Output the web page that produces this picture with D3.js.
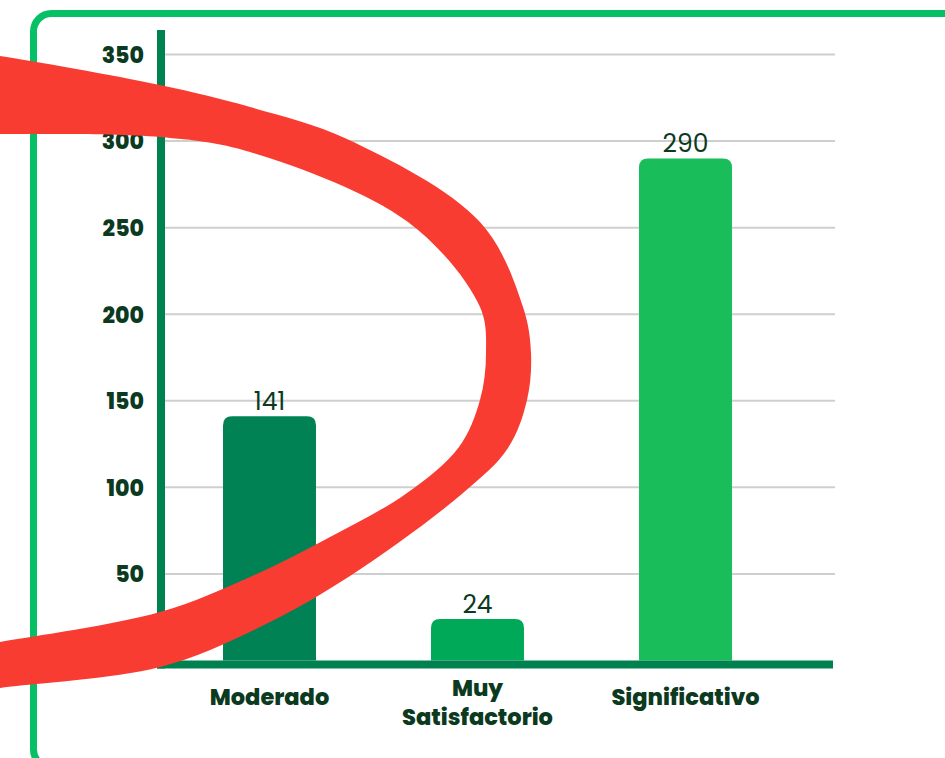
<!DOCTYPE html>
<html>
<head>
<meta charset="utf-8">
<script src="https://cdn.jsdelivr.net/npm/d3@7"></script>
<style>
  html, body { margin: 0; padding: 0; background: #fff; }
  svg { display: block; }
</style>
</head>
<body>
<svg id="chart" width="945" height="758"></svg>
<script>
"use strict";

// data
var categories = ["Moderado", "Muy Satisfactorio", "Significativo"];
var values = [141, 24, 290];
var labelLines = [["Moderado"], ["Muy", "Satisfactorio"], ["Significativo"]];
var barColors = ["#008254", "#00A957", "#19BE5B"];
var yTicks = [50, 100, 150, 200, 250, 300, 350];

// red marker stroke drawn over the chart (outer and inner edge)
var markOuter = [[-30, 52], [0, 56], [160, 85], [250, 107], [347, 139], [480, 222],
    [523, 307], [531, 353], [527, 400], [508, 448], [463, 493], [350, 576], [260, 627],
    [160, 667], [0, 688], [-30, 693]];
var markInner = [[-30, 134], [0, 134], [160, 137], [250, 152], [408, 222], [480, 307],
    [486, 353], [480, 400], [459, 447], [407, 493], [330, 537], [250, 577], [160, 612],
    [0, 642], [-30, 647]];

var svg = d3.select("#chart");
var font = "Poppins, Inter, 'Noto Sans', sans-serif";
var ink = "#0B3A1F";

var plot = { left: 165, right: 835, top: 54.5, bottom: 660.5 };

var x = d3.scaleBand()
    .domain(categories)
    .range([165.5, 789.5])
    .paddingInner(0.553)
    .paddingOuter(0.2765);

var y = d3.scaleLinear()
    .domain([0, 350])
    .range([plot.bottom, plot.top]);

// outer frame
svg.append("rect")
    .attr("x", 33.5)
    .attr("y", 13.5)
    .attr("width", 1000)
    .attr("height", 754)
    .attr("rx", 18)
    .attr("fill", "none")
    .attr("stroke", "#05C064")
    .attr("stroke-width", 7);

// gridlines
svg.append("g")
    .selectAll("line")
    .data(yTicks)
    .enter()
    .append("line")
    .attr("x1", plot.left)
    .attr("x2", plot.right)
    .attr("y1", function (d) { return y(d); })
    .attr("y2", function (d) { return y(d); })
    .attr("stroke", "#cfcfcf")
    .attr("stroke-width", 2);

// bars with rounded tops
function roundedTop(x0, y0, w, h, r) {
    return "M" + x0 + "," + (y0 + h) +
        "V" + (y0 + r) +
        "Q" + x0 + "," + y0 + " " + (x0 + r) + "," + y0 +
        "H" + (x0 + w - r) +
        "Q" + (x0 + w) + "," + y0 + " " + (x0 + w) + "," + (y0 + r) +
        "V" + (y0 + h) + "Z";
}

svg.append("g")
    .selectAll("path")
    .data(values)
    .enter()
    .append("path")
    .attr("d", function (d, i) {
        return roundedTop(x(categories[i]), y(d), x.bandwidth(), y(0) - y(d), 9);
    })
    .attr("fill", function (d, i) { return barColors[i]; });

// value labels
svg.append("g")
    .selectAll("text")
    .data(values)
    .enter()
    .append("text")
    .attr("x", function (d, i) { return x(categories[i]) + x.bandwidth() / 2; })
    .attr("y", function (d) { return y(d) - 6; })
    .attr("text-anchor", "middle")
    .attr("font-family", font)
    .attr("font-size", 25)
    .attr("fill", ink)
    .text(function (d) { return d; });

// axis lines
svg.append("line")
    .attr("x1", 161).attr("x2", 161)
    .attr("y1", 30).attr("y2", 668.5)
    .attr("stroke", "#008150")
    .attr("stroke-width", 8);

svg.append("line")
    .attr("x1", 157).attr("x2", 833)
    .attr("y1", y(0) + 4).attr("y2", y(0) + 4)
    .attr("stroke", "#008150")
    .attr("stroke-width", 8);

// y tick labels
var yAxis = svg.append("g")
    .attr("transform", "translate(144,0)")
    .call(d3.axisLeft(y).tickValues(yTicks).tickSize(0).tickPadding(0));
yAxis.select(".domain").remove();
yAxis.selectAll("text")
    .attr("font-family", font)
    .attr("font-size", 22)
    .attr("font-weight", 800)
    .attr("fill", ink)
    .attr("dy", "0.36em");

// category labels
var catLabels = svg.append("g")
    .selectAll("text")
    .data(labelLines)
    .enter()
    .append("text")
    .attr("text-anchor", "middle")
    .attr("font-family", font)
    .attr("font-size", 22.5)
    .attr("font-weight", 800)
    .attr("fill", ink);

catLabels.selectAll("tspan")
    .data(function (lines, i) {
        return lines.map(function (t, j) {
            return { text: t, cx: x(categories[i]) + x.bandwidth() / 2, y: 705 - (lines.length - 1) * 9 + j * 29 };
        });
    })
    .enter()
    .append("tspan")
    .attr("x", function (d) { return d.cx; })
    .attr("y", function (d) { return d.y; })
    .text(function (d) { return d.text; });

// red marker on top
var edge = d3.line().curve(d3.curveCatmullRom.alpha(0.5));
svg.append("path")
    .attr("d", edge(markOuter) + "L" + edge(markInner.slice().reverse()).slice(1) + "Z")
    .attr("fill", "#F93C31");
</script>
</body>
</html>
